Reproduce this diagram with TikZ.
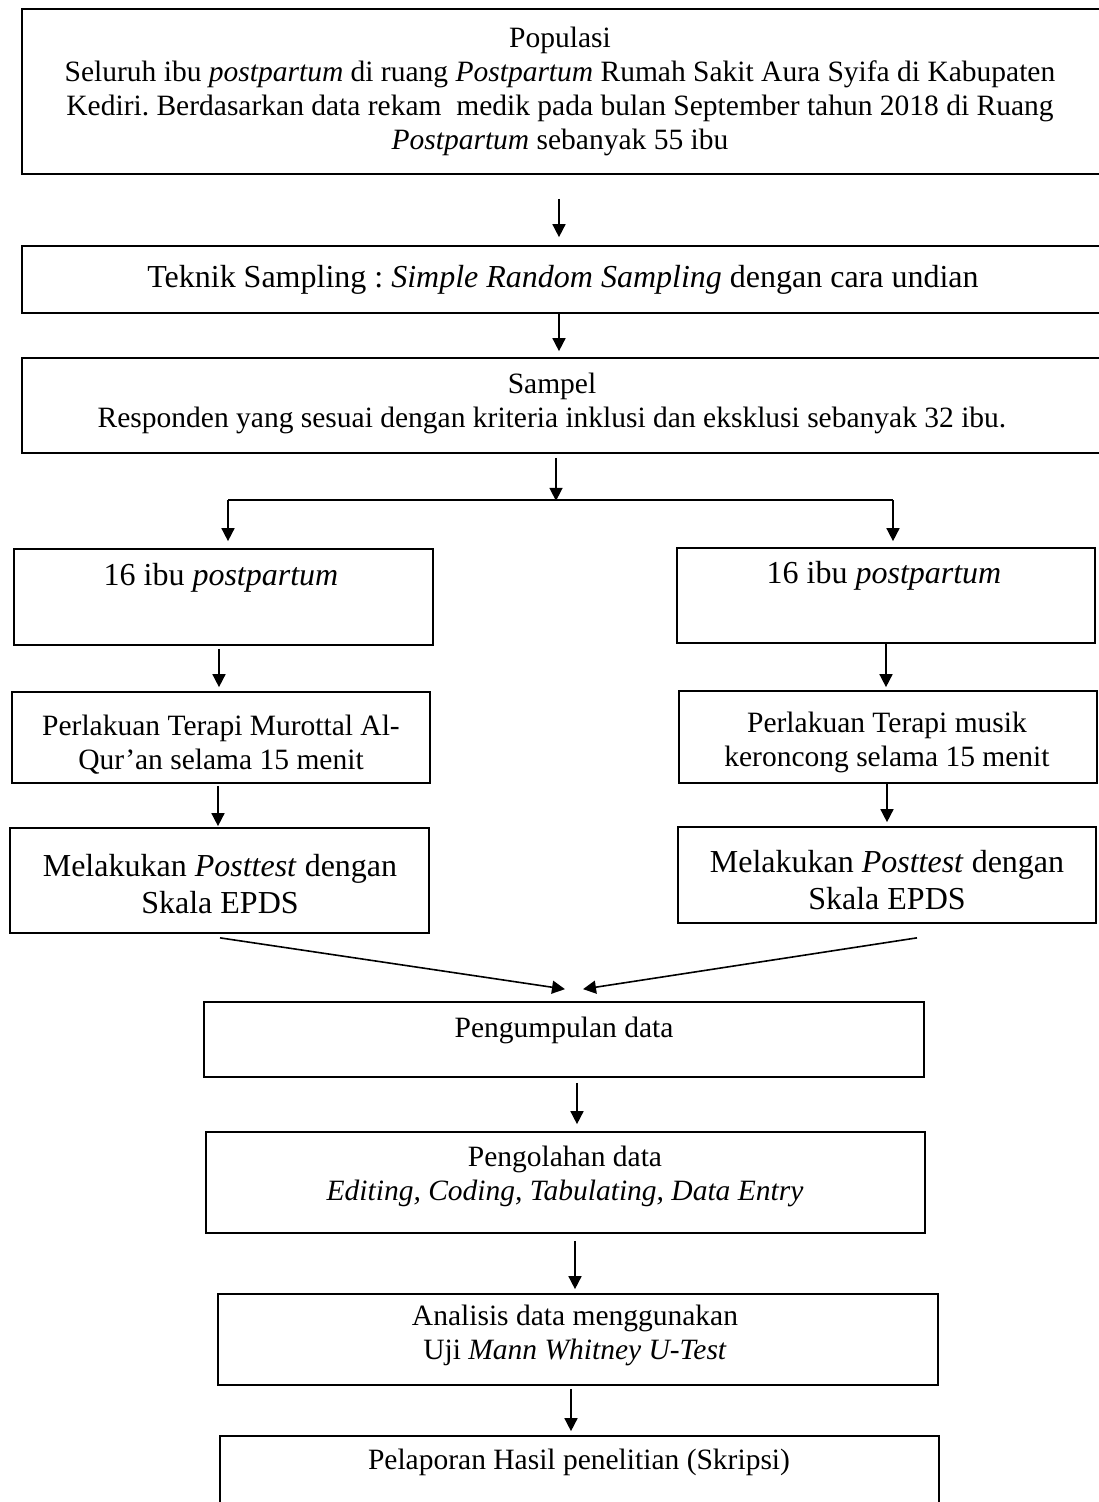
\documentclass[tikz,border=0pt]{standalone}
\usepackage{fontspec}
\setmainfont{Liberation Serif}
\usetikzlibrary{arrows.meta,calc}
\frenchspacing
\begin{document}
\begin{tikzpicture}[x=1pt,y=-1pt,
  box/.style={draw=black,line width=1.7pt,rectangle,inner sep=0pt},
  arr/.style={line width=1.6pt,-{Triangle[length=13pt,width=13pt]}},
  ln/.style={line width=1.6pt},
  txt/.style={align=center,inner sep=0pt,font=\fontsize{29.5}{34}\selectfont},
  bigtxt/.style={align=center,inner sep=0pt,font=\fontsize{32}{37}\selectfont}]
\useasboundingbox (0,0) rectangle (1098,1502);
% boxes
\node[box,minimum width=1088pt,minimum height=165pt] (pop) at (566,91.5) {};
\node[box,minimum width=1088pt,minimum height=67pt] (tek) at (566,279.5) {};
\node[box,minimum width=1088pt,minimum height=95pt] (sam) at (566,405.5) {};
\node[box,minimum width=419pt,minimum height=96pt] (l1) at (223.5,597) {};
\node[box,minimum width=418pt,minimum height=95pt] (r1) at (886,595.5) {};
\node[box,minimum width=418pt,minimum height=91pt] (l2) at (221,737.5) {};
\node[box,minimum width=418pt,minimum height=92pt] (r2) at (888,737) {};
\node[box,minimum width=419pt,minimum height=105pt] (l3) at (219.5,880.5) {};
\node[box,minimum width=418pt,minimum height=96pt] (r3) at (887,875) {};
\node[box,minimum width=720pt,minimum height=75pt] (peng) at (564,1039.5) {};
\node[box,minimum width=719pt,minimum height=101pt] (olah) at (565.5,1182.5) {};
\node[box,minimum width=720pt,minimum height=91pt] (anal) at (578,1339.5) {};
\node[box,minimum width=719pt,minimum height=84pt] (lap) at (579.5,1478) {};
% texts
\node[txt] (tpop) at (560,91) {Populasi\\Seluruh ibu \textit{postpartum} di ruang \textit{Postpartum} Rumah Sakit Aura Syifa di Kabupaten\\Kediri. Berdasarkan data rekam\ \ medik pada bulan September tahun 2018 di Ruang\\\textit{Postpartum} sebanyak 55 ibu};
\node[bigtxt] (ttek) at (563,280) {Teknik Sampling : \textit{Simple Random Sampling} dengan cara undian};
\node[txt] (tsam) at (552,403) {Sampel\\Responden yang sesuai dengan kriteria inklusi dan eksklusi sebanyak 32 ibu.};
\node[bigtxt] (tl1) at (221,578) {16 ibu \textit{postpartum}};
\node[bigtxt] (tr1) at (884,576) {16 ibu \textit{postpartum}};
\node[txt] (tl2) at (221,745) {Perlakuan Terapi Murottal Al-\\Qur’an selama 15 menit};
\node[txt] (tr2) at (887,742) {Perlakuan Terapi musik\\keroncong selama 15 menit};
\node[bigtxt] (tl3) at (220,884) {Melakukan \textit{Posttest} dengan\\Skala EPDS};
\node[bigtxt] (tr3) at (887,880) {Melakukan \textit{Posttest} dengan\\Skala EPDS};
\node[txt] (tpeng) at (564,1030) {Pengumpulan data};
\node[txt] (tolah) at (565,1176) {Pengolahan data\\\textit{Editing, Coding, Tabulating, Data Entry}};
\node[txt] (tanal) at (575,1335) {Analisis data menggunakan\\Uji \textit{Mann Whitney U-Test}};
\node[txt] (tlap) at (579,1462) {Pelaporan Hasil penelitian (Skripsi)};
% connectors
\coordinate (split) at ($(sam.south)+(-10,47)$);
\coordinate (splitL) at (228,500);
\coordinate (splitR) at (893,500);
\draw[arr] ($(pop.south)+(-7,24)$) -- ($(tek.north)+(-7,-8)$);
\draw[arr] ($(tek.south)+(-7,0)$) -- ($(sam.north)+(-7,-6)$);
\draw[arr] ($(sam.south)+(-10,4)$) -- (split);
\draw[ln] (splitL) -- (splitR);
\draw[arr] (splitL) -- ($(splitL |- l1.north)+(0,-7)$);
\draw[arr] (splitR) -- ($(splitR |- r1.north)+(0,-6)$);
\draw[arr] ($(l1.south)+(-4.5,3)$) -- ($(l2.north)+(-2,-4)$);
\draw[arr] ($(r1.south)+(0,0)$) -- ($(r2.north)+(-2,-3)$);
\draw[arr] ($(l2.south)+(-3,2)$) -- ($(l3.north)+(-1.5,-1)$);
\draw[arr] ($(r2.south)+(-1,0)$) -- ($(r3.north)+(0,-4)$);
\draw[arr] ($(l3.south)+(0.5,4)$) -- ($(peng.north)+(1,-12)$);
\draw[arr] ($(r3.south)+(30,14)$) -- ($(peng.north)+(19,-12)$);
\draw[arr] ($(peng.south)+(13,5)$) -- ($(olah.north)+(11.5,-7)$);
\draw[arr] ($(olah.south)+(9.5,7)$) -- ($(anal.north)+(-3,-4)$);
\draw[arr] ($(anal.south)+(-7,3)$) -- ($(lap.north)+(-8.5,-4)$);
\end{tikzpicture}
\end{document}
